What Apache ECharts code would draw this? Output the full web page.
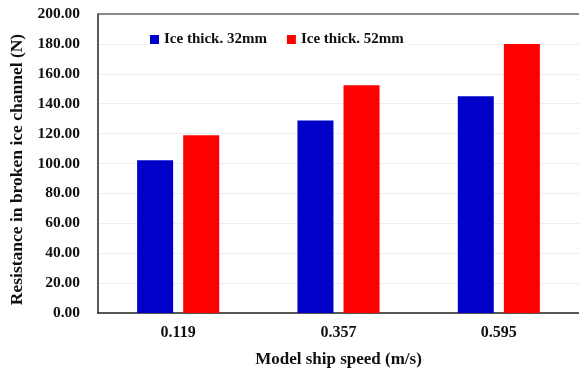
<!DOCTYPE html>
<html><head><meta charset="utf-8">
<script src="https://cdn.jsdelivr.net/npm/echarts@6/dist/echarts.min.js"></script>
<style>html,body{margin:0;padding:0;background:#fff}#c{width:579px;height:373px}</style>
</head><body><div id="c"></div>
<script>
const categories = ['0.119', '0.357', '0.595'];
const ice32 = [102.2, 128.7, 144.9];
const ice52 = [118.9, 152.4, 180.0];
const seriesNames = ['Ice thick. 32mm', 'Ice thick. 52mm'];

const font = 'Liberation Serif';
const chart = echarts.init(document.getElementById('c'));
chart.setOption({
  animation: false,
  textStyle: { fontFamily: font },
  grid: { left: 98, right: 0, top: 14, bottom: 59 },
  legend: {
    data: seriesNames,
    left: 146, top: 29,
    itemWidth: 9, itemHeight: 9, itemGap: 20,
    icon: 'rect',
    backgroundColor: '#fff',
    padding: [3, 4],
    textStyle: { fontFamily: font, fontWeight: 'bold', fontSize: 15, color: '#111' }
  },
  xAxis: [{
    type: 'category', data: categories,
    axisLine: { lineStyle: { color: '#222', width: 1.5 } },
    axisTick: { show: false },
    axisLabel: { fontFamily: font, fontWeight: 'bold', fontSize: 16, color: '#111', margin: 12 },
    name: 'Model ship speed (m/s)', nameLocation: 'middle', nameGap: 38,
    nameTextStyle: { fontFamily: font, fontWeight: 'bold', fontSize: 17, color: '#111' }
  }, {
    type: 'category', data: categories, position: 'top',
    axisLine: { show: true, lineStyle: { color: '#666', width: 1.5 } },
    axisTick: { show: false }, axisLabel: { show: false }
  }],
  yAxis: {
    type: 'value', min: 0, max: 200, interval: 20,
    axisLine: { show: true, lineStyle: { color: '#222', width: 1.5 } },
    axisTick: { show: false },
    splitLine: { lineStyle: { color: '#eeeeee' } },
    axisLabel: { fontFamily: font, fontWeight: 'bold', fontSize: 15.5, color: '#111', margin: 18,
      formatter: v => v.toFixed(2) },
    name: 'Resistance in broken ice channel (N)', nameLocation: 'middle', nameGap: 70,
    nameTextStyle: { fontFamily: font, fontWeight: 'bold', fontSize: 17.5, color: '#111', padding: [0, 12, 0, 0] }
  },
  series: [
    { name: seriesNames[0], type: 'bar', data: ice32, barWidth: 36, barGap: '28%',
      itemStyle: { color: '#0000c8' } },
    { name: seriesNames[1], type: 'bar', data: ice52, barWidth: 36,
      itemStyle: { color: '#ff0000' } }
  ]
});
</script></body></html>
